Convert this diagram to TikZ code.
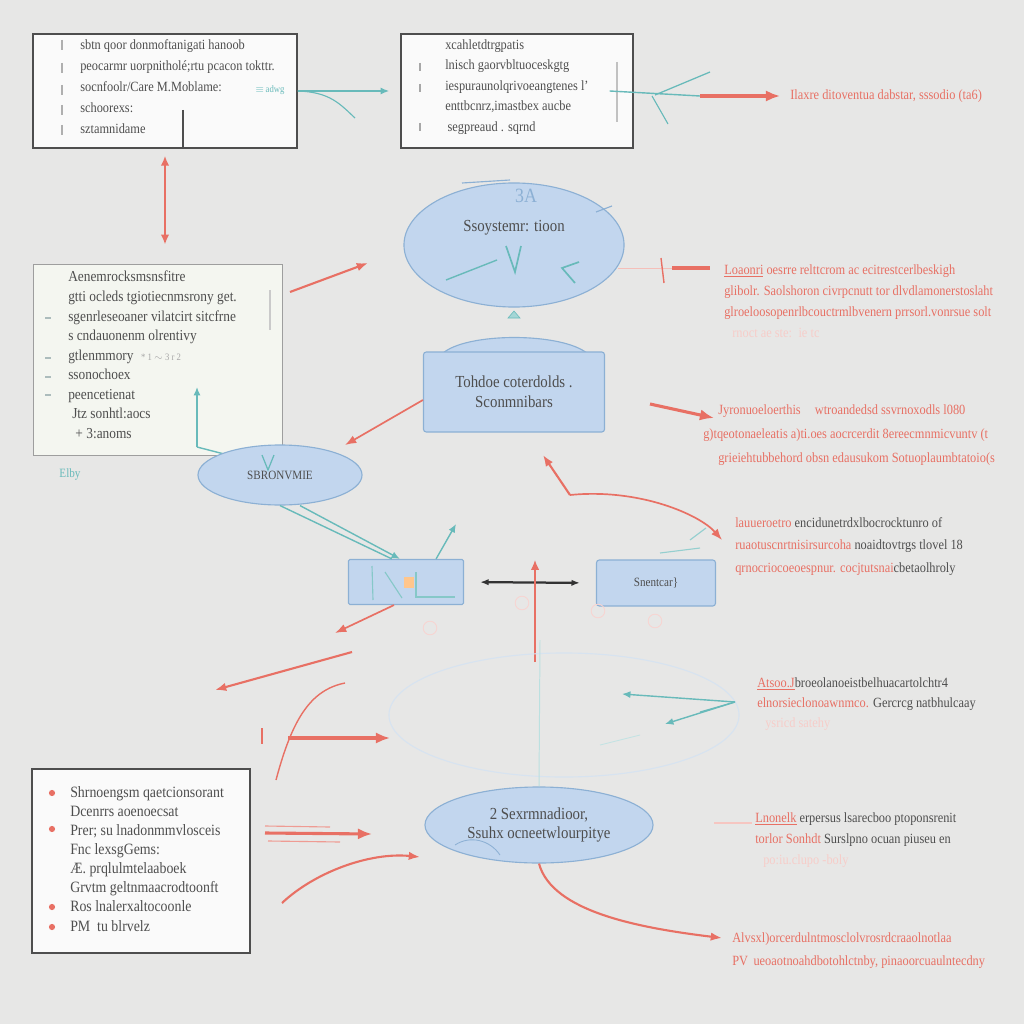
\documentclass[tikz,border=0pt]{standalone}
\usepackage{fontspec}
\setmainfont{Liberation Serif}[FakeStretch=0.88]
\usepackage{tikz}
\usetikzlibrary{arrows,arrows.meta,shapes,positioning}
\definecolor{bg}{RGB}{231,231,230}
\definecolor{ink}{RGB}{78,78,78}
\definecolor{rd}{RGB}{232,112,100}
\definecolor{tl}{RGB}{104,186,186}
\definecolor{bfill}{RGB}{194,214,238}
\definecolor{bline}{RGB}{140,176,212}
\definecolor{pane}{RGB}{250,250,250}
\definecolor{gpane}{RGB}{244,246,240}

\begin{document}
\begin{tikzpicture}[x=0.025cm, y=-0.025cm, node distance=0.4cm and 0.4cm,
      every node/.style={text=ink, font=\normalsize},
      box/.style={draw=ink, line width=0.9pt, fill=pane},
      blob/.style={ellipse, draw=bline, fill=bfill, line width=0.8pt, align=center},
      blk/.style={rectangle, draw=bline, fill=bfill, line width=0.8pt, rounded corners=2pt, align=center},
      lines/.style={anchor=north west, inner sep=0pt, align=left},
      note/.style={anchor=north west, inner sep=0pt, align=left, text=rd},
      rarr/.style={rd, line width=1.2pt, -{Latex[length=8pt,width=6pt]}},
      fat/.style={rd, line width=2.2pt, -{Latex[length=10pt,width=8pt]}},
      tarr/.style={tl, line width=1pt, -{Latex[length=6pt,width=5pt]}}]
      \fill[bg] (0,0) rectangle (1024,1024);
      \useasboundingbox (0,0) rectangle (1024,1024);

      % top row
      \node[box, minimum width=6.6cm, minimum height=2.85cm] (a) at (165,91) {};
      \node[lines, font=\linespread{1.25}\normalsize] (at) at (80,39) {sbtn qoor donmoftanigati hanoob\\
        peocarmr uorpnitholé;rtu pcacon tokttr.\\
        socnfoolr/Care M.Moblame:\\
        schoorexs:\\
        sztamnidame};
      \foreach \y in {45,68,90,110,130} \draw[ink!45, line width=0.8pt] (62,\y-5) -- (62,\y+5);
      \draw[ink, line width=0.8pt] (183,110) -- (183,148);
      \node[text=tl, font=\scriptsize, anchor=west, inner sep=0pt] (aw) at (255,90) {$\equiv$\,adwg};

      \node[box, minimum width=5.8cm, minimum height=2.85cm] (b) at (517,91) {};
      \node[lines, font=\linespread{1.22}\normalsize] (bt) at (445,39) {xcahletdtrgpatis\\
        lnisch gaorvbltuoceskgtg\\
        iespuraunolqrivoeangtenes l'\\
        enttbcnrz,imastbex aucbe\\
        \,segpreaud . sqrnd};
      \foreach \y in {67,88,127} \draw[ink!50, line width=0.8pt] (420,\y-4) -- (420,\y+4);
      \draw[ink!35, line width=1pt] (617,62) -- (617,122);

      \coordinate (a1) at (355,118);
      \draw[tarr] (a.east) -- ([xshift=-0.28cm]b.west);
      \draw[tl, line width=0.8pt] (a.east) .. controls (330,92) and (340,104) .. (a1);

      \coordinate (b1) at (700,96);
      \coordinate (b2) at (710,72);
      \coordinate (b3) at (668,124);
      \draw[tl, line width=1pt] ([xshift=-0.6cm]b.east) -- (b1);
      \draw[tl, line width=0.9pt] (655,95) -- (b2);
      \draw[tl, line width=0.8pt] (652,96) -- (b3);
      \node (r1) [right=2.25cm of b1, inner sep=0pt, text=rd] {Ilaxre ditoventua dabstar, sssodio (ta6)};
      \draw[fat, shorten >=0.25cm] (b1) -- (r1.west);

      % middle
      \node[box, draw=ink!55, line width=0.7pt, fill=gpane, minimum width=6.2cm, minimum height=4.75cm] (d) at (158,360) {};
      \draw[rd, line width=1.2pt, {Latex[length=7pt,width=6pt]}-{Latex[length=7pt,width=6pt]}, shorten <=0.18cm, shorten >=0.5cm] (a.south) -- (a.south |- d.north);
      \node[lines, font=\fontsize{10.8}{13.9}\selectfont] (dt) at (68,271) {Aenemrocksmsnsfitre\\
        gtti ocleds tgiotiecnmsrony get.\\
        sgenrleseoaner vilatcirt sitcfrne\\
        s cndauonenm olrentivy\\
        gtlenmmory\; {\color{ink!50}\scriptsize * 1 $\sim$ 3 r 2}\\
        ssonochoex\\
        peencetienat\\
        \hspace*{0.1cm}Jtz sonhtl:aocs\\
        \hspace*{0.18cm}+ 3:anoms};
      \foreach \y in {318,358,377,395} \draw[tl!40!ink!50, line width=1pt] (45,\y) -- (51,\y);
      \draw[ink!30, line width=0.8pt] (270,290) -- (270,330);
      \draw[tarr] (197,447) -- (197,387);
      \draw[tl, line width=1pt] (197,447) -- (228,455);
      \node[text=tl, font=\small] (dl) at (70,474) {Elby};

      \node[blob, minimum width=5.5cm, minimum height=3.1cm] (c) at (514,245) {};
      \node[font=\large] (ct) at (514,228) {Ssoystemr: tioon};
      \node[text=bline, font=\Large] (c3) at (526,196) {3A};
      \draw[bline, line width=0.8pt] (462,183) -- (510,180);
      \draw[bline, line width=0.8pt] (596,212) -- (612,206);
      \draw[tl, line width=1pt] (446,280) -- (497,260);
      \draw[tl, line width=1.2pt] (506,246) -- (515,272) -- (521,246);
      \draw[tl, line width=1.2pt] (579,262) -- (562,268) -- (575,283);
      \draw[tl, fill=tl!60] (508,318) -- (520,318) -- (514,311) -- cycle;

      \coordinate (d1) at (290,292);
      \coordinate (d2) at (368,263);
      \draw[rarr, line width=1.5pt] (d1) -- (d2);

      \coordinate (c1) at (618,268);
      \coordinate (c2) at (672,268);
      \coordinate (c3b) at (710,268);
      \draw[rd!45, line width=0.6pt] (c1) -- (c2);
      \draw[rd, line width=2.5pt] (c2) -- (c3b);
      \draw[rd, line width=1pt] (661,258) -- (664,283);
      \node[note, font=\linespread{1.25}\normalsize] (r2) at (724,264) {\underline{Loaonri} oesrre relttcrom ac ecitrestcerlbeskigh\\
        glibolr. Saolshoron civrpcnutt tor dlvdlamonerstoslaht\\
        glroeloosopenrlbcouctrmlbvenern prrsorl.vonrsue solt\\
        {\color{rd!35}\hspace*{0.2cm}rnoct ae ste: \,ie tc}};

      \draw[bline, fill=bfill, line width=0.8pt] (442,354) .. controls (465,332) and (563,332) .. (588,354);
      \node[blk, minimum width=4.525cm, minimum height=2cm, font=\large] (e) at (514,392) {Tohdoe coterdolds .\\Sconmnibars};
      \coordinate (e1) at (345,445);
      \draw[rarr] ([yshift=-0.2cm]e.west) -- (e1);

      \coordinate (e2) at (650,404);
      \coordinate (e3) at (714,418);
      \draw[fat] (e2) -- (e3);
      \node[note, font=\linespread{1.45}\normalsize] (r3) at (703,404) {\hspace*{0.375cm}Jyronuoeloerthis\quad wtroandedsd ssvrnoxodls l080\\
        g)tqeotonaeleatis a)ti.oes aocrcerdit 8ereecmnmicvuntv (t\\
        \hspace*{0.375cm}grieiehtubbehord obsn edausukom Sotuoplaumbtatoio(s};

      \node[blob, minimum width=4.1cm, minimum height=1.5cm, font=\small] (f) at (280,475) {SBRONVMIE};
      \draw[tl, line width=0.9pt] (262,455) -- (268,470) -- (274,455);

      % row of blocks
      \node[blk, rounded corners=1pt, minimum width=2.875cm, minimum height=1.125cm] (g) at (406,582) {};
      \draw[tl!80, line width=0.8pt] (372,566) -- (373,600);
      \draw[tl!80, line width=0.8pt] (385,572) -- (402,598);
      \fill[orange!45] (404,577) rectangle (414,588);
      \draw[tl!80, line width=0.8pt] (416,572) -- (416,597) -- (455,597);
      \node[blk, minimum width=2.975cm, minimum height=1.15cm, font=\small] (h) at (656,583) {Snentcar\}};
      \draw[black!80, line width=1.6pt, {Latex[length=6pt]}-{Latex[length=6pt]}, shorten <=0.4cm, shorten >=0.4cm] (g.east) -- (h.west);

      \draw[tl, line width=1pt] (f.south) -- ([xshift=1.1cm]g.north west);
      \draw[tarr] ([xshift=0.5cm]f.south) -- ([xshift=1.3cm]g.north west);
      \coordinate (g1) at (456,524);
      \draw[tarr] ([xshift=-0.7cm]g.north east) -- (g1);

      \coordinate (k1) at (570,495);
      \coordinate (k2) at (543,455);
      \coordinate (k3) at (722,540);
      \draw[rarr, line width=1.5pt] (k1) -- (k2);
      \draw[rarr] (k1) .. controls (640,488) and (700,515) .. (k3);
      \node[note, text=ink, font=\linespread{1.33}\normalsize] (r4) at (735,517) {{\color{rd}lauueroetro} encidunetrdxlbocrocktunro of\\
        {\color{rd}ruaotuscnrtnisirsurcoha} noaidtovtrgs tlovel 18\\
        {\color{rd}qrnocriocoeoespnur. cocjtutsnai}cbetaolhroly};
      \draw[tl!70, line width=0.8pt] (690,540) -- (706,528);
      \draw[tl!70, line width=0.8pt] (660,553) -- (700,548);

      \foreach \p in {(522,603),(598,611),(655,621),(430,628)} \draw[rd!30, line width=0.6pt] \p circle[radius=0.17cm];

      % lower part
      \coordinate (z1) at (535,662);
      \coordinate (z2) at (535,560);
      \draw[rd, line width=1pt, -{Latex[length=7pt,width=6pt]}] (z1) -- (z2);

      \draw[rarr] ([xshift=-0.3cm]g.south) -- (335,633);
      \coordinate (l1) at (352,652);
      \coordinate (l2) at (215,690);
      \draw[rarr, line width=1.5pt] (l1) -- (l2);

      \node[ellipse, draw=bline!35, line width=0.8pt, minimum width=8.75cm, minimum height=3.1cm] (fz) at (564,715) {};
      \coordinate (t1) at (735,702);
      \draw[tarr] (t1) -- (622,694);
      \draw[tarr] (t1) -- (665,724);
      \draw[tl, line width=0.8pt] (t1) -- (700,712);
      \draw[tl!40, line width=0.6pt] (600,745) -- (640,735);

      \coordinate (m1) at (288,738);
      \coordinate (m2) at (390,738);
      \draw[fat] (m1) -- (m2);
      \draw[rd, line width=1pt] (345,683) .. controls (310,690) and (292,720) .. (276,780);
      \draw[rd, line width=0.8pt] (262,728) -- (262,744);
      \node[note, text=ink, font=\linespread{1.2}\normalsize] (r5) at (757,677) {{\color{rd}\underline{Atsoo.J}}broeolanoeistbelhuacartolchtr4\\
        {\color{rd}elnorsieclonoawnmco.} Gercrcg natbhulcaay\\
        {\color{rd!35}\hspace*{0.2cm}ysricd satehy}};

      \node[blob, minimum width=5.7cm, minimum height=1.9cm, font=\large] (i) at (539,825) {2 Sexrmnadioor,\\Ssuhx ocneetwlourpitye};
      \draw[tl!45, line width=0.7pt] (540,640) -- (i.north);
      \draw[bline, line width=0.6pt] (455,845) .. controls (470,835) and (490,840) .. (500,855);

      \node[box, minimum width=5.45cm, minimum height=4.6cm] (j) at (141,861) {};
      \node[lines, font=\fontsize{11.2}{13.6}\selectfont] (jt) at (70,786) {Shrnoengsm qaetcionsorant\\
        Dcenrrs aoenoecsat\\
        Prer; su lnadonmmvlosceis\\
        Fnc lexsgGems:\\
        Æ. prqlulmtelaaboek\\
        Grvtm geltnmaacrodtoonft\\
        Ros lnalerxaltocoonle\\
        PM \ tu blrvelz};
      \foreach \y in {793,829,907,927} \fill[rd] (52,\y) circle[radius=2.2pt];

      \coordinate (n1) at (265,833);
      \coordinate (n2) at (372,834);
      \draw[fat] (n1) -- (n2);
      \draw[rd!70, line width=0.8pt] (265,826) -- (330,827);
      \draw[rd!70, line width=0.8pt] (268,841) -- (340,842);
      \coordinate (n3) at (282,903);
      \coordinate (n4) at (420,857);
      \draw[rarr, line width=1.5pt] (n3) .. controls (315,872) and (370,852) .. (n4);

      \draw[rd!40, line width=0.8pt] (714,823) -- (752,823);
      \node[note, text=ink, font=\linespread{1.25}\normalsize] (r6) at (755,812) {{\color{rd}\underline{Lnonelk}} erpersus lsarecboo ptoponsrenit\\
        {\color{rd}torlor Sonhdt} Surslpno ocuan piuseu en\\
        {\color{rd!35}\hspace*{0.2cm}po:iu.clupo -boly}};

      \coordinate (q1) at (722,938);
      \draw[rarr, line width=1.5pt] (i.south) .. controls (552,912) and (640,928) .. (q1);
      \node[note, font=\linespread{1.4}\normalsize] (r7) at (732,932) {Alvsxl)orcerdulntmosclolvrosrdcraaolnotlaa\\
        PV\, ueoaotnoahdbotohlctnby, pinaoorcuaulntecdny};
\end{tikzpicture}
\end{document}
